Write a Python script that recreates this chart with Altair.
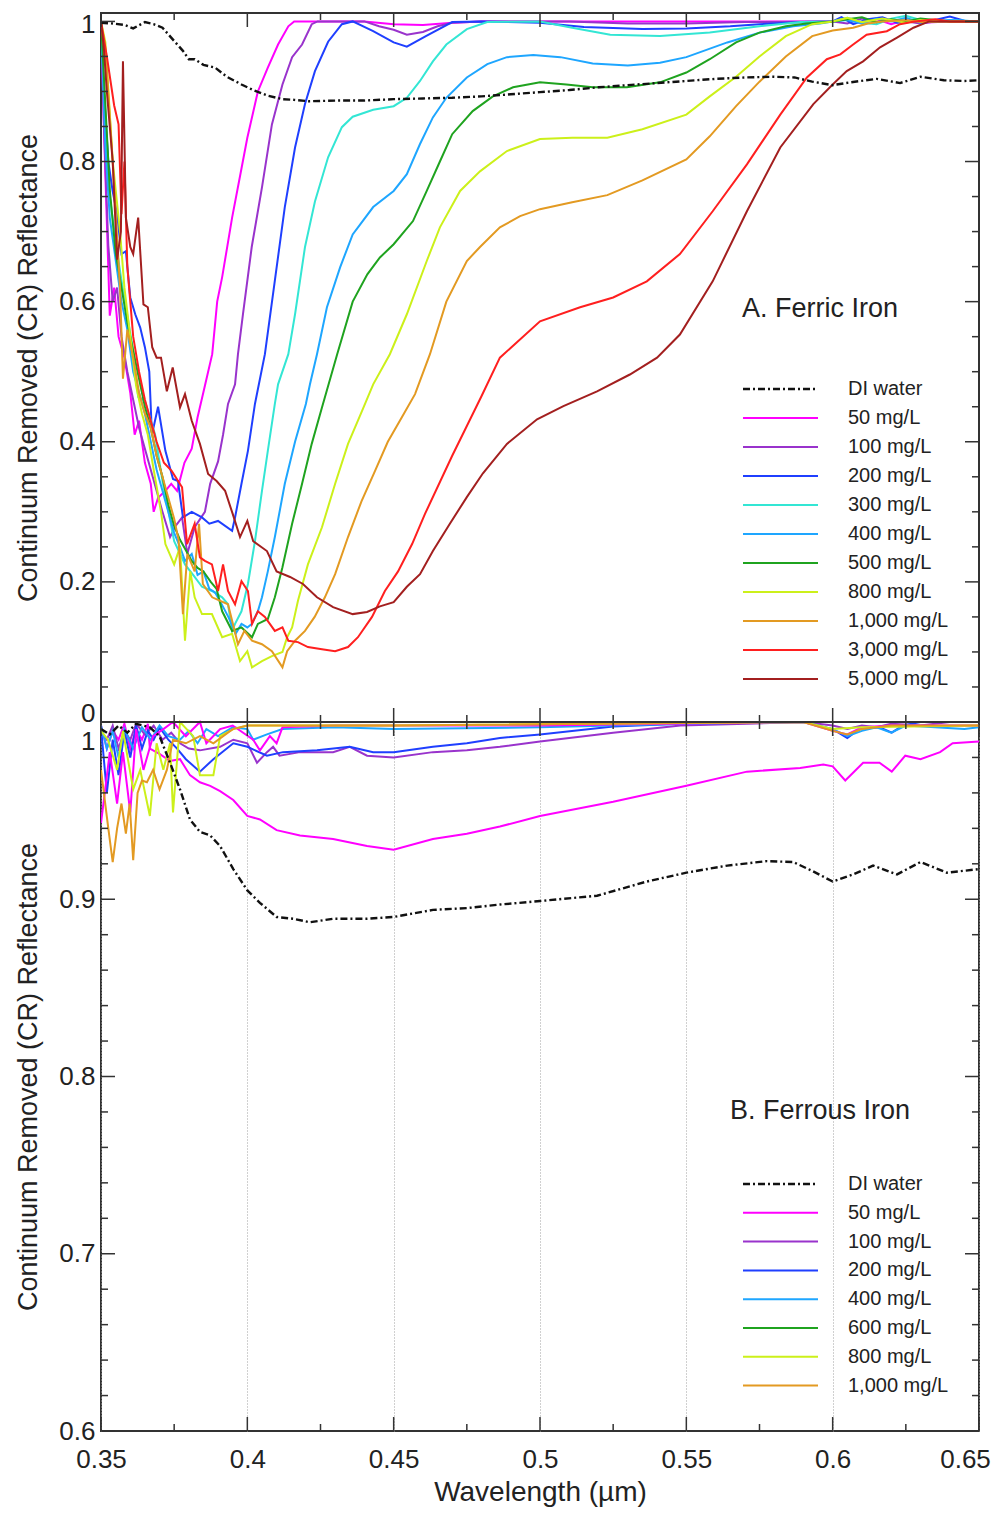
import altair as alt
import pandas as pd

W = 878
H = 709

# ---------------- axis tick positions ----------------
wl_major = [0.35, 0.40, 0.45, 0.50, 0.55, 0.60, 0.65]
wl_minor = [0.375, 0.425, 0.475, 0.525, 0.575, 0.625]
top_y_major = [0, 0.2, 0.4, 0.6, 0.8, 1.0]
top_y_minor = [0.05, 0.1, 0.15, 0.25, 0.3, 0.35, 0.45, 0.5, 0.55, 0.65, 0.7, 0.75, 0.85, 0.9, 0.95]
bot_y_major = [0.6, 0.7, 0.8, 0.9, 1.0]
bot_y_minor = [0.62, 0.64, 0.66, 0.68, 0.72, 0.74, 0.76, 0.78, 0.82, 0.84, 0.86, 0.88, 0.92, 0.94, 0.96, 0.98]

# ---------------- panel A: ferric iron ----------------
top_names = ["50 mg/L", "100 mg/L", "200 mg/L", "300 mg/L", "400 mg/L", "500 mg/L",
             "800 mg/L", "1,000 mg/L", "3,000 mg/L", "5,000 mg/L"]
top_colors = ["#ff00ff", "#9933cc", "#1f3fff", "#33e6d4", "#1ea6ff", "#1fa31f",
              "#ccf01a", "#e39a22", "#ff1f1f", "#a31f1f"]

di_top = [(0.350, 0.998), (0.354, 0.997), (0.358, 0.995), (0.361, 0.990), (0.365, 0.999), (0.368, 0.996),
          (0.371, 0.991), (0.375, 0.972), (0.378, 0.958), (0.380, 0.946), (0.382, 0.946), (0.385, 0.938),
          (0.389, 0.934), (0.393, 0.921), (0.398, 0.910), (0.402, 0.902), (0.407, 0.894), (0.412, 0.889),
          (0.416, 0.888), (0.421, 0.886), (0.43, 0.887), (0.44, 0.887), (0.45, 0.889), (0.46, 0.890),
          (0.47, 0.891), (0.48, 0.893), (0.49, 0.896), (0.50, 0.899), (0.51, 0.902), (0.52, 0.906),
          (0.53, 0.909), (0.54, 0.912), (0.55, 0.915), (0.56, 0.918), (0.57, 0.920), (0.58, 0.921),
          (0.587, 0.920), (0.593, 0.914), (0.600, 0.909), (0.606, 0.913), (0.615, 0.918), (0.623, 0.912),
          (0.630, 0.921), (0.638, 0.916), (0.645, 0.915), (0.650, 0.916)]

m50_top = [(0.350, 1.0), (0.3515, 0.78), (0.353, 0.58), (0.3545, 0.62), (0.356, 0.55), (0.358, 0.52),
           (0.360, 0.47), (0.3615, 0.41), (0.363, 0.43), (0.365, 0.37), (0.367, 0.34), (0.368, 0.30),
           (0.3695, 0.32), (0.372, 0.33), (0.374, 0.34), (0.376, 0.33), (0.3785, 0.37), (0.381, 0.39),
           (0.383, 0.435), (0.3855, 0.48), (0.388, 0.525), (0.3897, 0.60), (0.3914, 0.635), (0.3948, 0.72),
           (0.398, 0.79), (0.400, 0.834), (0.4036, 0.90), (0.407, 0.934), (0.4105, 0.967), (0.414, 0.993),
           (0.416, 1.0), (0.44, 1.0), (0.45, 0.996), (0.46, 0.995), (0.47, 0.998), (0.48, 1.0), (0.60, 1.0),
           (0.605, 1.004), (0.61, 0.997), (0.615, 1.003), (0.62, 0.996), (0.625, 1.002), (0.63, 0.998),
           (0.64, 1.0), (0.65, 1.0)]

p100_top = [(0.350, 1.0), (0.351, 0.85), (0.3525, 0.68), (0.354, 0.60), (0.3555, 0.62), (0.357, 0.55),
            (0.359, 0.50), (0.361, 0.46), (0.363, 0.42), (0.365, 0.39), (0.367, 0.36), (0.369, 0.33),
            (0.371, 0.30), (0.3736, 0.264), (0.3755, 0.28), (0.3777, 0.292), (0.3795, 0.24), (0.382, 0.278),
            (0.3855, 0.30), (0.3873, 0.34), (0.390, 0.372), (0.3917, 0.41), (0.3934, 0.454), (0.3958, 0.482),
            (0.3968, 0.525), (0.3985, 0.582), (0.4015, 0.678), (0.405, 0.763), (0.4084, 0.853), (0.412, 0.910),
            (0.4153, 0.949), (0.4187, 0.967), (0.422, 0.996), (0.424, 1.0), (0.44, 1.0), (0.445, 0.993),
            (0.45, 0.988), (0.4545, 0.981), (0.46, 0.985), (0.465, 0.993), (0.47, 0.998), (0.48, 1.0),
            (0.51, 1.0), (0.53, 0.997), (0.55, 0.997), (0.57, 0.999), (0.60, 1.0), (0.605, 0.997),
            (0.61, 1.004), (0.615, 0.998), (0.62, 1.003), (0.63, 0.997), (0.635, 1.0), (0.65, 1.0)]

b200_top = [(0.350, 1.0), (0.351, 0.90), (0.3525, 0.80), (0.354, 0.757), (0.3555, 0.725), (0.357, 0.668),
            (0.3585, 0.672), (0.360, 0.606), (0.3617, 0.582), (0.3634, 0.563), (0.365, 0.535), (0.3665, 0.50),
            (0.3674, 0.41), (0.3695, 0.45), (0.372, 0.387), (0.3746, 0.347), (0.3763, 0.344), (0.378, 0.292),
            (0.381, 0.300), (0.3845, 0.292), (0.387, 0.283), (0.390, 0.287), (0.3948, 0.273), (0.3958, 0.292),
            (0.398, 0.34), (0.4002, 0.387), (0.4026, 0.454), (0.406, 0.525), (0.4094, 0.63), (0.4128, 0.735),
            (0.4163, 0.82), (0.4197, 0.882), (0.4231, 0.929), (0.4276, 0.971), (0.4323, 0.996), (0.436, 1.0),
            (0.443, 0.986), (0.45, 0.970), (0.4545, 0.964), (0.461, 0.979), (0.470, 0.999), (0.48, 1.0),
            (0.50, 0.998), (0.515, 0.992), (0.535, 0.989), (0.55, 0.990), (0.565, 0.993), (0.575, 0.996),
            (0.59, 0.999), (0.60, 1.0), (0.603, 1.006), (0.607, 0.996), (0.612, 1.003), (0.617, 1.006),
            (0.622, 0.998), (0.628, 1.0), (0.635, 1.002), (0.64, 1.007), (0.645, 1.001), (0.65, 1.0)]

c300_top = [(0.350, 1.0), (0.3515, 0.85), (0.353, 0.75), (0.355, 0.686), (0.357, 0.63), (0.359, 0.58),
            (0.361, 0.53), (0.3627, 0.464), (0.365, 0.458), (0.3685, 0.41), (0.371, 0.344), (0.375, 0.258),
            (0.3787, 0.225), (0.382, 0.207), (0.3845, 0.193), (0.3879, 0.187), (0.3914, 0.178), (0.3934, 0.168),
            (0.3948, 0.13), (0.3958, 0.14), (0.398, 0.158), (0.4002, 0.197), (0.4026, 0.258), (0.405, 0.33),
            (0.407, 0.387), (0.4094, 0.454), (0.4105, 0.482), (0.414, 0.525), (0.4163, 0.582), (0.4197, 0.678),
            (0.4231, 0.743), (0.4276, 0.806), (0.4323, 0.849), (0.436, 0.864), (0.443, 0.874), (0.45, 0.879),
            (0.4545, 0.891), (0.459, 0.915), (0.4634, 0.943), (0.468, 0.967), (0.475, 0.989), (0.482, 0.999),
            (0.50, 1.0), (0.511, 0.991), (0.524, 0.981), (0.541, 0.979), (0.558, 0.984), (0.575, 0.993),
            (0.589, 0.999), (0.60, 1.0), (0.605, 1.005), (0.61, 0.998), (0.615, 0.996), (0.62, 1.004),
            (0.625, 1.008), (0.63, 1.002), (0.635, 0.999), (0.64, 1.002), (0.65, 1.0)]

l400_top = [(0.350, 1.0), (0.3515, 0.82), (0.353, 0.72), (0.355, 0.66), (0.357, 0.60), (0.359, 0.56),
            (0.361, 0.50), (0.363, 0.47), (0.365, 0.44), (0.367, 0.40), (0.369, 0.36), (0.371, 0.33),
            (0.373, 0.30), (0.375, 0.27), (0.377, 0.25), (0.3787, 0.23), (0.381, 0.24), (0.383, 0.21),
            (0.385, 0.215), (0.387, 0.19), (0.389, 0.185), (0.391, 0.17), (0.3935, 0.15), (0.396, 0.126),
            (0.398, 0.14), (0.400, 0.135), (0.4015, 0.14), (0.4036, 0.158), (0.405, 0.178), (0.407, 0.215),
            (0.4094, 0.264), (0.4128, 0.34), (0.4163, 0.40), (0.420, 0.454), (0.4214, 0.482), (0.4238, 0.525),
            (0.4272, 0.592), (0.4317, 0.649), (0.436, 0.696), (0.443, 0.735), (0.45, 0.758), (0.4545, 0.782),
            (0.459, 0.825), (0.4634, 0.863), (0.468, 0.891), (0.475, 0.920), (0.482, 0.939), (0.4887, 0.949),
            (0.4977, 0.952), (0.507, 0.949), (0.518, 0.940), (0.530, 0.937), (0.541, 0.941), (0.55, 0.949),
            (0.564, 0.970), (0.575, 0.984), (0.5865, 0.993), (0.5957, 0.997), (0.60, 1.0), (0.605, 1.002),
            (0.61, 0.997), (0.615, 1.004), (0.62, 1.0), (0.625, 1.005), (0.63, 0.998), (0.64, 1.002), (0.65, 1.0)]

g500_top = [(0.350, 1.0), (0.3515, 0.88), (0.353, 0.76), (0.355, 0.67), (0.357, 0.62), (0.359, 0.57),
            (0.361, 0.53), (0.363, 0.49), (0.365, 0.45), (0.367, 0.42), (0.369, 0.38), (0.371, 0.35),
            (0.373, 0.31), (0.375, 0.28), (0.377, 0.26), (0.379, 0.245), (0.381, 0.23), (0.383, 0.22),
            (0.385, 0.215), (0.3875, 0.20), (0.3895, 0.19), (0.3914, 0.158), (0.3948, 0.13), (0.398, 0.135),
            (0.4016, 0.121), (0.4036, 0.14), (0.407, 0.147), (0.4094, 0.178), (0.412, 0.221), (0.4153, 0.283),
            (0.4187, 0.34), (0.422, 0.397), (0.4255, 0.449), (0.4307, 0.525), (0.436, 0.60), (0.441, 0.639),
            (0.4453, 0.663), (0.45, 0.682), (0.4566, 0.715), (0.4613, 0.758), (0.4658, 0.80), (0.470, 0.839),
            (0.477, 0.872), (0.4839, 0.893), (0.4908, 0.906), (0.50, 0.913), (0.509, 0.910), (0.518, 0.906),
            (0.5297, 0.906), (0.541, 0.913), (0.55, 0.927), (0.558, 0.946), (0.567, 0.970), (0.575, 0.984),
            (0.584, 0.993), (0.591, 0.997), (0.60, 1.0), (0.605, 1.003), (0.61, 1.006), (0.615, 0.999),
            (0.62, 1.003), (0.625, 1.0), (0.63, 1.004), (0.64, 1.0), (0.65, 1.0)]

y800_top = [(0.350, 1.0), (0.3515, 0.97), (0.3524, 0.91), (0.354, 0.80), (0.3565, 0.70), (0.358, 0.62),
            (0.360, 0.55), (0.362, 0.48), (0.364, 0.44), (0.366, 0.41), (0.368, 0.36), (0.3705, 0.30),
            (0.372, 0.254), (0.375, 0.225), (0.377, 0.25), (0.3787, 0.116), (0.3805, 0.215), (0.382, 0.178),
            (0.3845, 0.154), (0.3879, 0.154), (0.3914, 0.121), (0.3948, 0.126), (0.3975, 0.087), (0.400, 0.101),
            (0.4016, 0.078), (0.405, 0.087), (0.4084, 0.094), (0.412, 0.10), (0.4136, 0.121), (0.4153, 0.135),
            (0.4173, 0.173), (0.4207, 0.225), (0.4255, 0.278), (0.430, 0.34), (0.4344, 0.397), (0.4392, 0.444),
            (0.443, 0.482), (0.4487, 0.525), (0.4545, 0.582), (0.4613, 0.658), (0.4658, 0.706), (0.4727, 0.758),
            (0.4795, 0.786), (0.4887, 0.815), (0.50, 0.832), (0.511, 0.834), (0.523, 0.834), (0.535, 0.846),
            (0.55, 0.867), (0.558, 0.893), (0.567, 0.921), (0.575, 0.95), (0.584, 0.979), (0.593, 0.996),
            (0.60, 1.0), (0.605, 1.005), (0.61, 0.999), (0.617, 1.004), (0.625, 0.998), (0.63, 1.002),
            (0.64, 1.0), (0.65, 1.0)]

o1000_top = [(0.350, 1.0), (0.352, 0.93), (0.354, 0.80), (0.3565, 0.62), (0.3575, 0.49), (0.359, 0.56),
             (0.361, 0.52), (0.363, 0.47), (0.365, 0.44), (0.367, 0.42), (0.369, 0.38), (0.371, 0.35),
             (0.373, 0.32), (0.375, 0.29), (0.3765, 0.26), (0.378, 0.154), (0.3795, 0.24), (0.382, 0.215),
             (0.3835, 0.283), (0.3848, 0.197), (0.388, 0.178), (0.3934, 0.168), (0.3968, 0.111), (0.399, 0.13),
             (0.4016, 0.116), (0.405, 0.111), (0.4084, 0.101), (0.412, 0.078), (0.4136, 0.101), (0.4163, 0.116),
             (0.4197, 0.13), (0.423, 0.15), (0.4265, 0.178), (0.430, 0.211), (0.4344, 0.264), (0.439, 0.315),
             (0.4436, 0.358), (0.448, 0.40), (0.4528, 0.435), (0.4573, 0.468), (0.4624, 0.525), (0.468, 0.60),
             (0.475, 0.658), (0.4795, 0.678), (0.4863, 0.706), (0.4932, 0.722), (0.50, 0.732), (0.511, 0.742),
             (0.523, 0.752), (0.535, 0.773), (0.55, 0.803), (0.558, 0.836), (0.567, 0.879), (0.575, 0.914),
             (0.584, 0.95), (0.593, 0.979), (0.60, 0.987), (0.607, 0.991), (0.612, 0.997), (0.617, 1.0),
             (0.625, 1.002), (0.63, 0.999), (0.64, 1.0), (0.65, 1.0)]

r3000_top = [(0.350, 1.0), (0.352, 0.95), (0.3545, 0.88), (0.356, 0.853), (0.357, 0.725), (0.358, 0.80),
             (0.359, 0.65), (0.361, 0.55), (0.363, 0.50), (0.365, 0.46), (0.367, 0.43), (0.369, 0.40),
             (0.3715, 0.37), (0.3742, 0.358), (0.3777, 0.335), (0.3794, 0.254), (0.382, 0.283), (0.3838, 0.235),
             (0.3855, 0.23), (0.3879, 0.225), (0.39, 0.187), (0.3917, 0.225), (0.3934, 0.187), (0.3958, 0.168),
             (0.398, 0.201), (0.4002, 0.187), (0.4016, 0.14), (0.4036, 0.158), (0.406, 0.15), (0.4094, 0.13),
             (0.412, 0.135), (0.414, 0.116), (0.4173, 0.114), (0.4207, 0.107), (0.4255, 0.104), (0.430, 0.101),
             (0.4344, 0.107), (0.4378, 0.121), (0.4426, 0.15), (0.447, 0.187), (0.4515, 0.215), (0.4563, 0.254),
             (0.4607, 0.297), (0.47, 0.38), (0.48, 0.465), (0.4863, 0.52), (0.50, 0.572), (0.5137, 0.592),
             (0.525, 0.606), (0.5365, 0.629), (0.5478, 0.668), (0.559, 0.729), (0.5707, 0.796), (0.5821, 0.867),
             (0.5912, 0.92), (0.598, 0.946), (0.6026, 0.953), (0.607, 0.967), (0.6116, 0.981), (0.6185, 0.986),
             (0.623, 0.996), (0.628, 1.0), (0.635, 1.003), (0.64, 1.0), (0.65, 1.0)]

br5000_top = [(0.350, 1.0), (0.351, 0.96), (0.352, 0.90), (0.354, 0.80), (0.3555, 0.66), (0.3568, 0.70),
              (0.3575, 0.943), (0.3585, 0.72), (0.360, 0.678), (0.361, 0.668), (0.3627, 0.72), (0.3645, 0.596),
              (0.366, 0.592), (0.3675, 0.535), (0.369, 0.52), (0.3705, 0.52), (0.3725, 0.472), (0.3745, 0.506),
              (0.377, 0.449), (0.3787, 0.468), (0.381, 0.43), (0.3838, 0.397), (0.3866, 0.354), (0.3895, 0.344),
              (0.3924, 0.33), (0.395, 0.297), (0.3975, 0.264), (0.40, 0.287), (0.402, 0.258), (0.4067, 0.244),
              (0.41, 0.215), (0.4146, 0.207), (0.419, 0.197), (0.4238, 0.178), (0.4293, 0.164), (0.436, 0.154),
              (0.4409, 0.157), (0.4453, 0.165), (0.45, 0.171), (0.4545, 0.193), (0.459, 0.211), (0.4634, 0.244),
              (0.4692, 0.283), (0.475, 0.321), (0.4805, 0.355), (0.4887, 0.397), (0.499, 0.432), (0.508, 0.451),
              (0.5195, 0.472), (0.5307, 0.496), (0.54, 0.52), (0.5478, 0.553), (0.559, 0.629), (0.5707, 0.729),
              (0.5821, 0.82), (0.5934, 0.882), (0.60, 0.91), (0.6048, 0.929), (0.6104, 0.943), (0.6162, 0.963),
              (0.622, 0.977), (0.6276, 0.991), (0.633, 1.0), (0.64, 1.0), (0.65, 1.0)]

top_curves = [m50_top, p100_top, b200_top, c300_top, l400_top, g500_top,
              y800_top, o1000_top, r3000_top, br5000_top]

# ---------------- panel B: ferrous iron ----------------
bot_names = ["50 mg/L", "100 mg/L", "200 mg/L", "400 mg/L", "600 mg/L", "800 mg/L", "1,000 mg/L"]
bot_colors = ["#ff00ff", "#9933cc", "#1f3fff", "#1ea6ff", "#1fa31f", "#ccf01a", "#e39a22"]

di_bot = [(0.350, 0.996), (0.353, 0.993), (0.356, 0.998), (0.359, 0.994), (0.362, 0.999), (0.3667, 0.997),
          (0.370, 0.992), (0.3736, 0.977), (0.377, 0.962), (0.3804, 0.945), (0.3838, 0.938), (0.3873, 0.936),
          (0.3907, 0.930), (0.3952, 0.917), (0.40, 0.905), (0.4043, 0.898), (0.41, 0.890), (0.4157, 0.889),
          (0.4214, 0.887), (0.4293, 0.889), (0.4409, 0.889), (0.45, 0.890), (0.4634, 0.894), (0.475, 0.895),
          (0.4863, 0.897), (0.50, 0.899), (0.5195, 0.902), (0.5365, 0.910), (0.55, 0.915), (0.564, 0.919),
          (0.5775, 0.9215), (0.5865, 0.921), (0.593, 0.916), (0.60, 0.910), (0.607, 0.914), (0.6138, 0.919),
          (0.622, 0.914), (0.63, 0.921), (0.639, 0.915), (0.65, 0.917)]

m50_bot = [(0.350, 0.998), (0.352, 0.985), (0.354, 0.995), (0.356, 0.99), (0.358, 0.999), (0.360, 0.985),
           (0.362, 0.996), (0.364, 0.99), (0.366, 0.999), (0.3667, 0.985), (0.370, 0.982), (0.3736, 0.978),
           (0.377, 0.979), (0.3804, 0.970), (0.3838, 0.966), (0.3873, 0.964), (0.3907, 0.961), (0.3952, 0.956),
           (0.40, 0.947), (0.4043, 0.945), (0.41, 0.939), (0.418, 0.936), (0.4293, 0.934), (0.4409, 0.930),
           (0.45, 0.928), (0.4634, 0.934), (0.475, 0.937), (0.4863, 0.941), (0.50, 0.947), (0.525, 0.955),
           (0.55, 0.964), (0.5707, 0.972), (0.5889, 0.974), (0.5968, 0.976), (0.60, 0.975), (0.6043, 0.967),
           (0.6104, 0.977), (0.616, 0.977), (0.6202, 0.972), (0.6248, 0.981), (0.63, 0.979), (0.6367, 0.983),
           (0.641, 0.988), (0.65, 0.989)]

p100_bot = [(0.350, 0.995), (0.352, 0.99), (0.354, 0.998), (0.356, 0.985), (0.358, 0.995), (0.360, 0.99),
            (0.362, 0.999), (0.365, 0.993), (0.368, 0.998), (0.371, 0.99), (0.374, 0.994), (0.377, 0.988),
            (0.380, 0.985), (0.3838, 0.984), (0.3907, 0.986), (0.3952, 0.990), (0.40, 0.988), (0.4033, 0.977),
            (0.4067, 0.983), (0.4088, 0.986), (0.411, 0.981), (0.418, 0.983), (0.4293, 0.983), (0.435, 0.986),
            (0.4409, 0.981), (0.45, 0.980), (0.4634, 0.983), (0.475, 0.984), (0.4863, 0.986), (0.50, 0.989),
            (0.525, 0.994), (0.548, 0.998), (0.5707, 0.999), (0.59, 1.0), (0.60, 0.998), (0.605, 0.996),
            (0.61, 0.998), (0.615, 0.997), (0.62, 0.999), (0.63, 0.998), (0.64, 1.0), (0.65, 1.0)]

b200_bot = [(0.350, 0.997), (0.352, 0.96), (0.354, 0.99), (0.356, 0.97), (0.358, 0.995), (0.360, 0.98),
            (0.362, 0.998), (0.364, 0.985), (0.366, 0.995), (0.368, 0.99), (0.370, 0.997), (0.373, 0.99),
            (0.376, 0.985), (0.379, 0.979), (0.3838, 0.972), (0.3884, 0.979), (0.3952, 0.988), (0.40, 0.986),
            (0.4067, 0.981), (0.4122, 0.983), (0.4238, 0.984), (0.435, 0.986), (0.443, 0.983), (0.45, 0.983),
            (0.4634, 0.986), (0.475, 0.988), (0.4863, 0.991), (0.50, 0.993), (0.525, 0.9975), (0.548, 0.999),
            (0.59, 1.0), (0.60, 0.996), (0.605, 0.991), (0.609, 0.996), (0.616, 0.997), (0.6202, 0.994),
            (0.624, 0.998), (0.63, 1.0), (0.65, 1.0)]

l400_bot = [(0.350, 0.998), (0.352, 0.985), (0.354, 0.995), (0.356, 0.98), (0.358, 0.996), (0.361, 0.985),
            (0.364, 0.997), (0.367, 0.99), (0.370, 0.998), (0.373, 0.992), (0.377, 0.99), (0.380, 0.995),
            (0.383, 0.988), (0.386, 0.996), (0.39, 0.992), (0.395, 0.997), (0.40, 0.996), (0.402, 0.990),
            (0.4067, 0.993), (0.412, 0.996), (0.43, 0.997), (0.45, 0.996), (0.50, 0.997), (0.55, 0.999),
            (0.59, 1.0), (0.60, 0.996), (0.605, 0.992), (0.61, 0.995), (0.615, 0.997), (0.62, 0.994),
            (0.625, 0.998), (0.635, 0.997), (0.645, 0.996), (0.65, 0.997)]

g600_bot = [(0.350, 0.943), (0.353, 0.983), (0.3555, 0.954), (0.3575, 0.983), (0.360, 0.949), (0.362, 0.996),
            (0.3645, 0.973), (0.3678, 0.992), (0.3713, 0.996), (0.3746, 1.0), (0.379, 0.992), (0.3838, 1.0),
            (0.386, 0.988), (0.3907, 0.996), (0.395, 0.998), (0.402, 0.990), (0.4043, 0.984), (0.4077, 0.992),
            (0.41, 0.988), (0.412, 0.997), (0.43, 0.998), (0.50, 0.998), (0.59, 1.0), (0.60, 0.995),
            (0.605, 0.993), (0.61, 0.997), (0.62, 0.998), (0.65, 0.998)]

y800_bot = [(0.350, 0.995), (0.3524, 0.99), (0.3555, 0.973), (0.3575, 0.995), (0.361, 0.962), (0.3634, 0.973),
            (0.3667, 0.947), (0.369, 0.988), (0.3713, 0.973), (0.3736, 0.988), (0.3746, 0.949), (0.377, 1.0),
            (0.3815, 0.992), (0.3838, 0.970), (0.3884, 0.970), (0.3907, 0.992), (0.3952, 0.996), (0.40, 0.998),
            (0.45, 0.998), (0.59, 1.0), (0.60, 0.996), (0.61, 0.997), (0.65, 0.998)]

o1000_bot = [(0.350, 0.973), (0.3525, 0.94), (0.354, 0.921), (0.3555, 0.94), (0.357, 0.954), (0.3585, 0.937),
             (0.3598, 0.954), (0.361, 0.922), (0.3625, 0.96), (0.364, 0.967), (0.3657, 0.966), (0.3678, 0.973),
             (0.370, 0.962), (0.3725, 0.973), (0.3746, 0.99), (0.379, 0.988), (0.3838, 0.992), (0.3884, 0.988),
             (0.395, 0.996), (0.40, 0.998), (0.45, 0.998), (0.59, 1.0), (0.60, 0.995), (0.605, 0.993),
             (0.61, 0.996), (0.62, 0.998), (0.65, 0.998)]

bot_curves = [m50_bot, p100_bot, b200_bot, l400_bot, g600_bot, y800_bot, o1000_bot]

DI_NAME = "DI water"
DI_DASH = [7, 3, 2, 3]
FONT = "Liberation Sans"
INK = "#222222"
FRAME = "#333333"

XSC = alt.Scale(domain=[0.35, 0.65], nice=False, zero=False)
XAXIS = alt.Axis(values=wl_major, format="~g", grid=True, gridColor="#a0a0a0",
                 gridDash=[1, 2], gridWidth=1, ticks=False, domain=False,
                 labelFontSize=26, labelPadding=15, labelFlush=False,
                 labelOffset={"condition": {"test": "datum.value > 0.64", "value": -14}, "value": 0},
                 title="Wavelength (µm)", titleFontSize=28, titlePadding=6)
XE = alt.X("w:Q", scale=XSC, axis=XAXIS)


def curves_df(names, curves):
    rows = []
    for n, pts in zip(names, curves):
        for w, v in pts:
            rows.append({"series": n, "w": w, "v": v})
    return pd.DataFrame(rows)


def pts_df(pts):
    return pd.DataFrame({"w": [p[0] for p in pts], "v": [p[1] for p in pts]})


def panel(names, colors, curves, di_pts, ydom, yrange, yoff, ymaj, ymin, title, tx, ty,
          leg_y0, leg_dy, label_cond):
    ysc = alt.Scale(domain=ydom, range=yrange, nice=False, zero=False)
    yaxis = alt.Axis(values=ymaj, format="~g", grid=False, ticks=False, domain=False, orient="left",
                     labelFontSize=26, labelPadding=6, labelOffset=label_cond,
                     title="Continuum Removed (CR) Reflectance", titleFontSize=27, titlePadding=16)
    ye = alt.Y("v:Q", scale=ysc, axis=yaxis)

    lines = alt.Chart(curves_df(names, curves)).mark_line(strokeWidth=2, clip=True).encode(
        x=XE, y=ye,
        color=alt.Color("series:N", scale=alt.Scale(domain=names, range=colors), legend=None),
    )
    di = alt.Chart(pts_df(di_pts)).mark_line(strokeWidth=2.4, color="#111111",
                                              strokeDash=DI_DASH, clip=True).encode(x=XE, y=ye)

    def xt(vals, ln):
        base = alt.Chart(pd.DataFrame({"w": vals})).mark_rule(color=FRAME, strokeWidth=1.5)
        return [base.encode(x=XE, y=alt.value(yoff), y2=alt.value(yoff + ln)),
                base.encode(x=XE, y=alt.value(yoff + H), y2=alt.value(yoff + H - ln))]

    def yt(vals, ln):
        base = alt.Chart(pd.DataFrame({"v": vals})).mark_rule(color=FRAME, strokeWidth=1.5)
        return [base.encode(y=ye, x=alt.value(0), x2=alt.value(ln)),
                base.encode(y=ye, x=alt.value(W), x2=alt.value(W - ln))]

    ticks = xt(wl_major, 14) + xt(wl_minor, 7) + yt(ymaj, 14) + yt(ymin, 7)

    leg = pd.DataFrame({"name": names, "color": colors, "idx": list(range(1, len(names) + 1))})
    leg_di = pd.DataFrame({"name": [DI_NAME], "idx": [0]})
    ycalc = f"{leg_y0 + yoff} + datum.idx * {leg_dy}"
    ypix = alt.Y("yp:Q", scale=None, axis=None)
    leg_rules = alt.Chart(leg).transform_calculate(yp=ycalc).mark_rule(strokeWidth=2).encode(
        x=alt.value(642), x2=alt.value(717), y=ypix, color=alt.Color("color:N", scale=None, legend=None))
    leg_di_rule = alt.Chart(leg_di).transform_calculate(yp=ycalc).mark_rule(
        strokeWidth=2.4, color="#111111", strokeDash=DI_DASH).encode(
        x=alt.value(642), x2=alt.value(717), y=ypix)
    all_leg = pd.concat([leg_di, leg[["name", "idx"]]], ignore_index=True)
    leg_text = alt.Chart(all_leg).transform_calculate(yp=ycalc).mark_text(
        align="left", baseline="middle", fontSize=20, font=FONT, color=INK).encode(
        x=alt.value(747), y=ypix, text="name:N")

    ttl = alt.Chart(pd.DataFrame({"t": [title]})).mark_text(
        align="left", baseline="middle", fontSize=27, font=FONT, color=INK).encode(
        x=alt.value(tx), y=alt.value(ty + yoff), text="t:N")

    return alt.layer(lines, di, *ticks, leg_rules, leg_di_rule, leg_text, ttl)


top = panel(top_names, top_colors, top_curves, di_top, [0, 1.012], [H, 0], 0,
            top_y_major, top_y_minor, "A. Ferric Iron", 641, 296, 376, 29,
            {"condition": [{"test": "datum.value == 0", "value": -9},
                           {"test": "datum.value == 1", "value": 3}], "value": 0})
bottom = panel(bot_names, bot_colors, bot_curves, di_bot, [0.6, 1.0], [2 * H, H], H,
               bot_y_major, bot_y_minor, "B. Ferrous Iron", 629, 389, 462, 28.8,
               {"condition": {"test": "datum.value == 1", "value": 19}, "value": 0})

divider = alt.Chart(pd.DataFrame({"d": [0]})).mark_rule(color=FRAME, strokeWidth=2).encode(
    x=alt.value(0), x2=alt.value(W), y=alt.value(H))

chart = alt.layer(top, bottom, divider).resolve_scale(y="independent").properties(
    width=W, height=2 * H,
    autosize=alt.AutoSizeParams(type="none"),
    padding={"left": 93, "top": 5, "right": 12, "bottom": 76},
).configure_view(stroke=FRAME, strokeWidth=2).configure_axis(
    labelFont=FONT, titleFont=FONT, labelColor=INK, titleColor=INK, titleFontWeight="normal")

chart.save("out.html", embed_options={"renderer": "svg", "actions": False})
